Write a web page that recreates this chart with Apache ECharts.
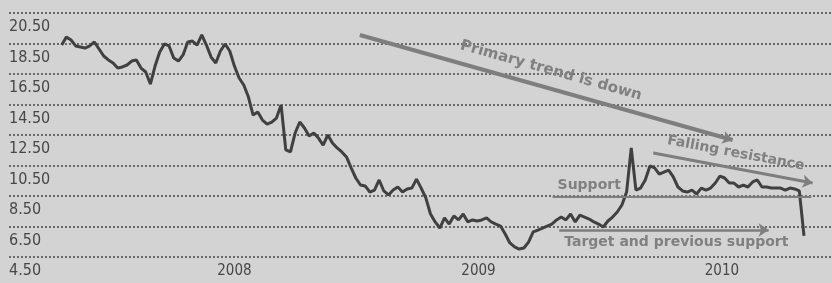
<!DOCTYPE html>
<html>
<head>
<meta charset="utf-8">
<title>Price chart</title>
<script src="https://cdn.jsdelivr.net/npm/echarts@6/dist/echarts.min.js"></script>
<style>
  html, body { margin: 0; padding: 0; background: #d3d3d3; }
  #chart { width: 832px; height: 283px; }
</style>
</head>
<body>
<div id="chart"></div>
<script>
// weekly closes, first week 17 Apr 2007
const firstWeek = '2007-04-17'
const closes = [
  18.40, 18.93, 18.73, 18.34, 18.27, 18.20, 18.34, 18.60, 18.14, 17.68,
  17.42, 17.22, 16.89, 16.96, 17.09, 17.35, 17.42, 16.89, 16.63, 15.84,
  17.02, 17.94, 18.47, 18.34, 17.55, 17.35, 17.75, 18.60, 18.66, 18.40,
  19.06, 18.40, 17.61, 17.22, 18.01, 18.47, 18.01, 17.02, 16.24, 15.78,
  14.99, 13.81,
  14.01, 13.48, 13.22, 13.35, 13.61, 14.47, 11.52, 11.39, 12.63, 13.35,
  12.96, 12.43, 12.63, 12.30, 11.84, 12.50, 11.98, 11.65, 11.39, 11.06,
  10.34, 9.68, 9.22, 9.16, 8.76, 8.89, 9.55, 8.83, 8.57, 8.89,
  9.09, 8.76, 8.96, 9.02, 9.61, 9.02, 8.37, 7.32, 6.80, 6.40,
  7.06, 6.66, 7.19, 6.93, 7.32, 6.80, 6.93, 6.86, 6.93, 7.06,
  6.80, 6.66, 6.53, 6.01, 5.42, 5.16, 5.02, 5.09, 5.48, 6.14,
  6.27, 6.40, 6.53, 6.66, 6.93, 7.12, 6.93, 7.32, 6.80, 7.25,
  7.12, 6.99, 6.80, 6.66, 6.47, 6.86, 7.12, 7.45, 7.91, 8.76,
  11.65, 8.89, 9.02, 9.55, 10.47, 10.34, 9.94, 10.07, 10.20, 9.75,
  9.09, 8.83, 8.76, 8.89, 8.63, 9.02, 8.89, 9.02, 9.35, 9.81,
  9.68, 9.35, 9.35, 9.09, 9.22, 9.09, 9.42, 9.55, 9.09, 9.09,
  9.02, 9.02, 9.02, 8.89, 9.02, 8.96, 8.83, 5.88
]
const yearTicks = ['2008-01-01', '2009-01-01', '2010-01-01']

// annotation lines [date, price]
const primaryTrend = [['2008-07-07', 19.06], ['2010-01-17', 12.17]]
const fallingResistance = [['2009-09-20', 11.32], ['2010-05-17', 9.35]]
const supportLine = [['2009-04-22', 8.43], ['2010-05-15', 8.43]]
const targetLine = [['2009-05-02', 6.27], ['2010-03-12', 6.27]]

const DAY = 86400000
const weeks = closes.map((_, i) => Date.parse(firstWeek) + i * 7 * DAY)
const toCoord = (p) => [Date.parse(p[0]), p[1]]

const font = '"DejaVu Sans Condensed", "Liberation Sans Narrow", "DejaVu Sans", sans-serif'
const noteColor = '#7e7e7e'
const noteText = { color: '#808080', fontFamily: '"DejaVu Sans", sans-serif', fontWeight: 'bold' }

function note(points, text, position, opts) {
  return [
    {
      coord: toCoord(points[0]),
      symbol: 'none',
      lineStyle: { color: noteColor, width: opts.width, type: 'solid' },
      label: Object.assign({ show: true, formatter: text, position: position, distance: opts.distance, fontSize: opts.fontSize }, noteText)
    },
    { coord: toCoord(points[1]), symbol: opts.arrow ? 'arrow' : 'none', symbolSize: opts.arrow ? 10 : 0 }
  ]
}

const chart = echarts.init(document.getElementById('chart'))

chart.setOption({
  backgroundColor: '#d3d3d3',
  animation: false,
  grid: { left: 9, right: 0, top: 13, bottom: 26, outerBoundsMode: 'none' },
  xAxis: {
    type: 'value',
    min: Date.parse('2007-01-28'),
    max: Date.parse('2010-06-15'),
    axisLine: { show: false },
    axisTick: { show: false },
    splitLine: { show: false },
    axisLabel: {
      customValues: yearTicks.map(d => Date.parse(d)),
      formatter: (v) => String(new Date(v).getUTCFullYear()),
      color: '#474747',
      fontSize: 15,
      fontFamily: font,
      margin: 7
    }
  },
  yAxis: {
    type: 'value',
    min: 4.5,
    max: 20.5,
    interval: 2,
    axisLine: { show: false },
    axisTick: { show: false },
    axisLabel: {
      inside: true,
      margin: 0,
      align: 'left',
      verticalAlign: 'top',
      padding: [6, 0, 0, 0],
      formatter: (v) => v.toFixed(2),
      color: '#474747',
      fontSize: 16,
      fontFamily: font
    },
    splitLine: {
      lineStyle: { color: '#6a6a6a', width: 2, type: [2, 2] }
    }
  },
  series: [
    {
      type: 'line',
      data: weeks.map((t, i) => [t, closes[i]]),
      showSymbol: false,
      lineStyle: { color: '#404040', width: 3 },
      z: 3,
      markLine: {
        silent: true,
        animation: false,
        data: [
          note(primaryTrend, 'Primary trend is down', 'insideMiddleTop', { width: 4, distance: 10, fontSize: 15, arrow: true }),
          note(fallingResistance, 'Falling resistance', 'insideMiddleTop', { width: 3, distance: 8, fontSize: 14, arrow: true }),
          note(supportLine, 'Support', 'insideStartTop', { width: 2, distance: 5, fontSize: 14, arrow: false }),
          note(targetLine, 'Target and previous support', 'insideStartBottom', { width: 2.5, distance: 5, fontSize: 14, arrow: true })
        ]
      }
    }
  ]
})
</script>
</body>
</html>
